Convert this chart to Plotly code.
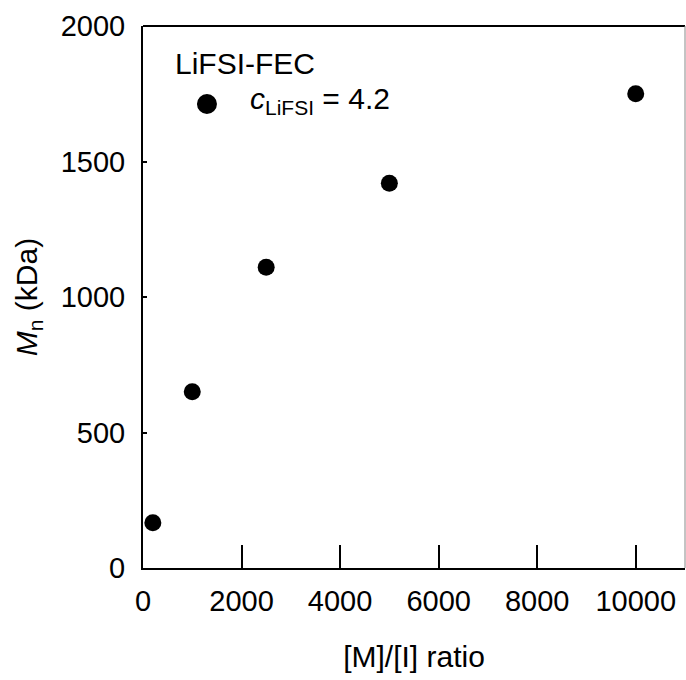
import plotly.graph_objects as go

ratio = [200, 1000, 2500, 5000, 10000]
mn_kda = [167, 650, 1110, 1420, 1750]
x_ticks = [0, 2000, 4000, 6000, 8000, 10000]
x_tick_labels = ["0", "2000", "4000", "6000", "8000", "10000"]
y_ticks = [0, 500, 1000, 1500, 2000]
y_tick_labels = ["0", "500", "1000", "1500", "2000"]

font = "Liberation Sans, Arial, sans-serif"

fig = go.Figure()
fig.add_trace(go.Scatter(
    x=ratio, y=mn_kda, mode="markers",
    marker=dict(color="black", size=17),
    showlegend=False,
))

fig.update_layout(
    width=686, height=680,
    margin=dict(l=143, r=1, t=26, b=112),
    plot_bgcolor="white", paper_bgcolor="white",
    font=dict(family=font, size=29, color="black"),
    showlegend=False,
    xaxis=dict(
        range=[0, 11000], tickvals=x_ticks, ticktext=x_tick_labels,
        ticks="inside", ticklen=23, tickwidth=1.5, tickcolor="black",
        showline=True, linecolor="black", linewidth=2,
        showgrid=False, zeroline=False,
        tickfont=dict(size=29),
        title=dict(text="[M]/[I] ratio", font=dict(size=30), standoff=30),
        ticklabelstandoff=6,
    ),
    yaxis=dict(
        range=[0, 2000], tickvals=y_ticks, ticktext=y_tick_labels,
        ticks="inside", ticklen=4, tickwidth=1.5, tickcolor="black",
        showline=True, linecolor="black", linewidth=2,
        showgrid=False, zeroline=False,
        tickfont=dict(size=29),
        title=dict(text="<i>M</i><sub>n</sub> (kDa)", font=dict(size=30), standoff=14),
        ticklabelstandoff=10,
    ),
    shapes=[
        dict(type="line", xref="paper", yref="paper", x0=0, x1=1, y0=1, y1=1,
             line=dict(color="black", width=2)),
        dict(type="line", xref="paper", yref="paper", x0=1, x1=1, y0=0, y1=1,
             line=dict(color="#888888", width=1)),
        dict(type="circle", xref="paper", yref="paper", xsizemode="pixel", ysizemode="pixel",
             xanchor=0.118, yanchor=0.856, x0=-10, x1=10, y0=-10, y1=10,
             fillcolor="black", line=dict(width=0)),
    ],
    annotations=[
        dict(text="LiFSI-FEC", xref="paper", yref="paper", x=0.055, y=0.930,
             xanchor="left", yanchor="middle", showarrow=False, font=dict(size=30)),
        dict(text="<i>c</i><sub>LiFSI</sub> = 4.2", xref="paper", yref="paper", x=0.194, y=0.862,
             xanchor="left", yanchor="middle", showarrow=False, font=dict(size=30)),
    ],
)

fig.write_html("out.html")
